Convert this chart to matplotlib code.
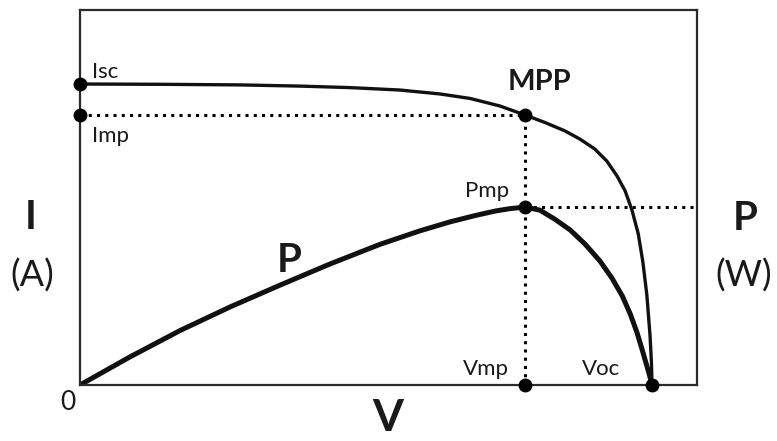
import matplotlib
matplotlib.use("Agg")
import matplotlib.pyplot as plt

# normalised I-V curve (V / Voc, I / Isc)
iv_v = [0.0, 0.140, 0.280, 0.385, 0.472, 0.559, 0.629, 0.682, 0.734, 0.778,
        0.813, 0.848, 0.874, 0.900, 0.921, 0.939, 0.953, 0.965, 0.976, 0.984,
        0.991, 0.9965, 0.999, 1.0]
iv_i = [1.000, 0.999, 0.997, 0.993, 0.988, 0.980, 0.967, 0.952, 0.927, 0.897,
        0.872, 0.844, 0.817, 0.784, 0.744, 0.694, 0.645, 0.581, 0.502, 0.409,
        0.299, 0.166, 0.076, 0.0]

# power curve, drawn on the same vertical scale
p_v = [0.0, 0.087, 0.175, 0.262, 0.350, 0.437, 0.524, 0.594, 0.647, 0.691,
       0.726, 0.752, 0.778, 0.804, 0.830, 0.857, 0.883, 0.909, 0.930, 0.948,
       0.962, 0.974, 0.983, 0.990, 0.995, 1.0]
p_p = [0.0, 0.093, 0.181, 0.259, 0.332, 0.402, 0.467, 0.512, 0.542, 0.563,
       0.578, 0.586, 0.591, 0.581, 0.551, 0.515, 0.468, 0.412, 0.355, 0.296,
       0.236, 0.173, 0.116, 0.070, 0.037, 0.0]

v_mp, i_mp, p_mp = 0.778, 0.897, 0.591
i_sc, v_oc = 1.0, 1.0

plt.rcParams['font.family'] = ['Lato', 'DejaVu Sans']

fig = plt.figure(figsize=(7.77, 4.41), dpi=100)
ax = fig.add_axes([80 / 777, 56 / 441, 617 / 777, 375 / 441])
ax.set_xlim(0, 617 / 572)
ax.set_ylim(0, 375 / 301)
ax.set_xticks([])
ax.set_yticks([])
for s in ax.spines.values():
    s.set_linewidth(1.6)
    s.set_color("#2b2b2b")

dot = (0, (1, 1.7))
ax.plot([0, v_mp], [i_mp, i_mp], color="black", lw=2.2, ls=dot)
ax.plot([v_mp, v_mp], [0, i_mp], color="black", lw=2.2, ls=dot)
ax.plot([v_mp, 617 / 572], [p_mp, p_mp], color="black", lw=2.2, ls=dot, clip_on=False)

ax.plot(iv_v, iv_i, color="#111111", lw=2.4, solid_joinstyle="round")
ax.plot(p_v, p_p, color="#111111", lw=3.6, solid_joinstyle="round")

pts_x = [0, 0, v_mp, v_mp, v_mp, v_oc]
pts_y = [i_sc, i_mp, i_mp, p_mp, 0, 0]
ax.plot(pts_x, pts_y, "o", color="black", ms=9, clip_on=False, zorder=5)

def px(x, y):
    # pixel position in the picture -> figure fraction
    return x / 777, 1 - y / 441

kw = dict(color="#1a1a1a")
fig.text(*px(92, 78), "Isc", fontsize=16, ha="left", va="baseline", **kw)
fig.text(*px(92, 142), "Imp", fontsize=16, ha="left", va="baseline", **kw)
fig.text(*px(539, 90), "MPP", fontsize=21, fontweight="bold", ha="center", va="baseline", **kw)
fig.text(*px(509, 197), "Pmp", fontsize=16, ha="right", va="baseline", **kw)
fig.text(*px(509, 375), "Vmp", fontsize=16, ha="right", va="baseline", **kw)
fig.text(*px(601, 375), "Voc", fontsize=16, ha="center", va="baseline", **kw)
fig.text(*px(68, 402), "0", fontsize=19, ha="center", va="center", **kw)
fig.text(*px(289, 260), "P", fontsize=29, fontweight="bold", ha="center", va="center", **kw)
fig.text(*px(31, 218), "I", fontsize=29, fontweight="bold", ha="center", va="center", **kw)
fig.text(*px(32, 276), "(A)", fontsize=26, ha="center", va="center", **kw)
fig.text(*px(745, 219), "P", fontsize=29, fontweight="bold", ha="center", va="center", **kw)
fig.text(*px(744, 276), "(W)", fontsize=26, ha="center", va="center", **kw)
fig.text(*px(388, 418), "V", fontsize=32, fontweight="bold", ha="center", va="center", **kw)

fig.savefig("out.png", dpi=100)
